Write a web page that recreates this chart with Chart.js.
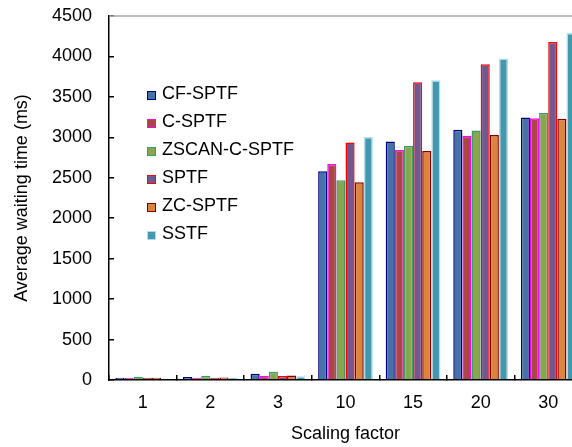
<!DOCTYPE html>
<html>
<head>
<meta charset="utf-8">
<script src="https://cdn.jsdelivr.net/npm/chart.js@4"></script>
<style>
  html, body { margin: 0; padding: 0; background: #fff; overflow: hidden; width: 572px; height: 447px; }
  #wrap { position: relative; width: 572px; height: 447px; overflow: hidden; }
  #chart { position: absolute; left: 0; top: 0; }
  #legend { position: absolute; left: 147px; top: 79px; font-family: 'Liberation Sans', Arial, sans-serif; font-size: 18px; color: #000; }
  #legend div { height: 28px; line-height: 28px; white-space: nowrap; }
  #legend span.box { display: inline-block; width: 7px; height: 7px; border-width: 1.5px; border-style: solid; margin-right: 6px; vertical-align: -1px; }
</style>
</head>
<body>
<div id="wrap">
  <canvas id="chart" width="582" height="447"></canvas>
  <div id="legend"></div>
</div>
<script>
// Categories and series values (ms)
const categories = ['1', '2', '3', '10', '15', '20', '30'];
const seriesNames = ['CF-SPTF', 'C-SPTF', 'ZSCAN-C-SPTF', 'SPTF', 'ZC-SPTF', 'SSTF'];
const cfSptf    = [28, 37, 78, 2580, 2950, 3095, 3245];
const cSptf     = [28, 28, 53, 2670, 2845, 3020, 3235];
const zscanCSptf = [41, 53, 103, 2470, 2895, 3085, 3305];
const sptf      = [28, 28, 49, 2935, 3680, 3905, 4180];
const zcSptf    = [28, 32, 57, 2445, 2830, 3030, 3230];
const sstf      = [16, 28, 45, 3005, 3705, 3975, 4290];
const yTicks    = [0, 500, 1000, 1500, 2000, 2500, 3000, 3500, 4000, 4500];

const fills   = ['#4572A7', '#AA4643', '#89A54E', '#71588F', '#DB843D', '#4198AF'];
const borders = ['#000080', '#FF00FF', '#3A9A6A', '#FF0000', '#800000', '#B4DCE8'];
const allSeries = [cfSptf, cSptf, zscanCSptf, sptf, zcSptf, sstf];

const FONT = "'Liberation Sans', Arial, sans-serif";

const datasets = allSeries.map((vals, i) => ({
    label: seriesNames[i],
    data: vals,
    backgroundColor: fills[i],
    borderColor: borders[i],
    borderWidth: 1.5,
    barPercentage: 1.0,
    categoryPercentage: 0.81
}));

// thin gray frame line on top of the plot area
const topLine = {
    id: 'topLine',
    afterDraw(chart) {
        const a = chart.chartArea;
        const ctx = chart.ctx;
        ctx.save();
        ctx.strokeStyle = '#a6a6a6';
        ctx.lineWidth = 1.5;
        ctx.beginPath();
        ctx.moveTo(a.left, a.top);
        ctx.lineTo(a.right, a.top);
        ctx.stroke();
        ctx.restore();
    }
};

new Chart(document.getElementById('chart').getContext('2d'), {
    type: 'bar',
    data: { labels: categories, datasets: datasets },
    options: {
        responsive: false,
        animation: false,
        layout: { padding: { left: 0, right: 0, top: 16, bottom: 0 } },
        plugins: {
            legend: { display: false },
            tooltip: { enabled: false }
        },
        scales: {
            x: {
                afterFit: (scale) => { scale.height = 67; scale.paddingLeft = 0; scale.paddingRight = 0; },
                grid: { offset: true, drawOnChartArea: false, drawTicks: true, tickLength: -5, color: '#000', lineWidth: 1.5 },
                border: { color: '#000', width: 1.5 },
                ticks: { color: '#000', font: { family: FONT, size: 18 }, padding: 17, maxRotation: 0 },
                title: { display: true, text: 'Scaling factor', color: '#000', font: { family: FONT, size: 18 }, padding: { top: 0, bottom: 2 } }
            },
            y: {
                min: 0,
                max: 4500,
                afterFit: (scale) => { scale.width = 109; scale.paddingTop = 0; scale.paddingBottom = 0; },
                afterBuildTicks: (scale) => { scale.ticks = yTicks.map(v => ({ value: v })); },
                grid: { drawOnChartArea: false, drawTicks: true, tickLength: -5, color: '#000', lineWidth: 1.5 },
                border: { color: '#000', width: 1.5 },
                ticks: { color: '#000', font: { family: FONT, size: 18 }, padding: 22, callback: (v) => String(v) },
                title: { display: true, text: 'Average waiting time (ms)', color: '#000', font: { family: FONT, size: 18 }, padding: { top: 11, bottom: 0 } }
            }
        }
    },
    plugins: [topLine]
});

// legend inside the plot area, built from the same series arrays
const legend = document.getElementById('legend');
seriesNames.forEach((name, i) => {
    const row = document.createElement('div');
    const box = document.createElement('span');
    box.className = 'box';
    box.style.background = fills[i];
    box.style.borderColor = borders[i];
    row.appendChild(box);
    row.appendChild(document.createTextNode(name));
    legend.appendChild(row);
});
</script>
</body>
</html>
